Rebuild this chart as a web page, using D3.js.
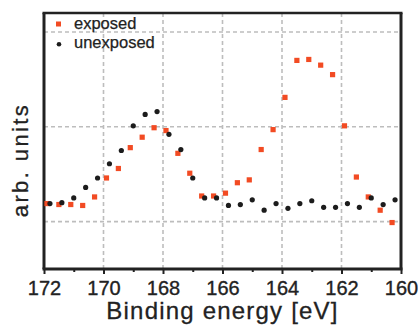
<!DOCTYPE html>
<html>
<head>
<meta charset="utf-8">
<script src="https://cdn.jsdelivr.net/npm/d3@7"></script>
<style>
  html, body { margin: 0; padding: 0; background: #fff; }
  svg { display: block; }
  text { font-family: Arial, "Liberation Sans", sans-serif; fill: #222; }
</style>
</head>
<body>
<svg id="chart" width="420" height="325"></svg>
<script>
// ---- data ----
const exposedEnergy = [171.9,171.5,171.1,170.7,170.3,169.9,169.5,169.1,168.7,168.3,167.9,167.5,167.1,166.7,166.3,165.9,165.5,165.1,164.7,164.3,163.9,163.5,163.1,162.7,162.3,161.9,161.5,161.1,160.7,160.3];
const exposedValues = [0.19,0.18,0.18,0.17,0.26,0.46,0.56,0.78,0.89,0.99,0.96,0.72,0.51,0.27,0.27,0.30,0.41,0.44,0.76,0.97,1.31,1.70,1.71,1.65,1.55,1.01,0.47,0.26,0.12,-0.01];
const unexposedEnergy = [171.8,171.4,171.0,170.6,170.2,169.8,169.4,169.0,168.6,168.2,167.8,167.4,167.0,166.6,166.2,165.8,165.4,165.0,164.6,164.2,163.8,163.4,163.0,162.6,162.2,161.8,161.4,161.0,160.6,160.2];
const unexposedValues = [0.19,0.20,0.25,0.36,0.46,0.61,0.75,1.01,1.13,1.16,0.92,0.76,0.46,0.25,0.25,0.17,0.18,0.23,0.12,0.19,0.14,0.19,0.22,0.15,0.15,0.19,0.15,0.25,0.18,0.23];
const xTicks = [172,170,168,166,164,162,160];
const xMinorTicks = [171,169,167,165,163,161];
const xGrid = [170,168,166,164,162];
const yGrid = [0,1,2];
const legendLabels = ["exposed","unexposed"];
const xTitle = "Binding energy [eV]";
const yTitle = "arb. units";

// ---- layout ----
const L = 44, R = 401, T = 13, B = 269;
const redColor = "#f24b23", blackColor = "#1c1c1c";
const svg = d3.select("#chart");
const x = d3.scaleLinear().domain([172,160]).range([L,R]);
const y = d3.scaleLinear().domain([-0.5,2.2]).range([B,T]);

// grid
const grid = svg.append("g").attr("stroke","#bdbdbd").attr("stroke-width",1.6).attr("stroke-dasharray","4,3");
grid.selectAll("line.v").data(xGrid).join("line").attr("class","v")
  .attr("x1",d=>x(d)).attr("x2",d=>x(d)).attr("y1",T).attr("y2",B);
grid.selectAll("line.h").data(yGrid).join("line").attr("class","h")
  .attr("x1",L).attr("x2",R).attr("y1",d=>y(d)).attr("y2",d=>y(d));

// frame
svg.append("line").attr("x1",L-1.5).attr("x2",R+1.5).attr("y1",T).attr("y2",T).attr("stroke","#222").attr("stroke-width",2.5);
svg.append("line").attr("x1",R).attr("x2",R).attr("y1",T).attr("y2",B).attr("stroke","#222").attr("stroke-width",3);
svg.append("line").attr("x1",L).attr("x2",L).attr("y1",T).attr("y2",B).attr("stroke","#222").attr("stroke-width",3);

// x axis
const xAxis = d3.axisBottom(x).tickValues(xTicks).tickSize(5).tickPadding(7).tickFormat(d3.format("d"));
const gx = svg.append("g").attr("transform",`translate(0,${B})`).call(xAxis);
gx.select(".domain").attr("stroke","#222").attr("stroke-width",2.8).attr("d",`M${L-1.5},0H${R+1.5}`);
gx.selectAll(".tick line").attr("stroke","#222").attr("stroke-width",2);
gx.selectAll(".tick text").attr("font-size",20).attr("fill","#222")
  .attr("stroke","#222").attr("stroke-width",0.35)
  .attr("font-family","Arial, 'Liberation Sans', sans-serif");
const xMinor = d3.axisBottom(x).tickValues(xMinorTicks).tickSize(3).tickFormat("");
const gxm = svg.append("g").attr("transform",`translate(0,${B})`).call(xMinor);
gxm.select(".domain").remove();
gxm.selectAll(".tick line").attr("stroke","#222").attr("stroke-width",2);

// titles
svg.append("text").attr("x",(L+R)/2).attr("y",319).attr("text-anchor","middle")
  .attr("font-size",24).attr("letter-spacing",1.2)
  .attr("stroke","#222").attr("stroke-width",0.3).text(xTitle);
svg.append("text").attr("transform","translate(28,160) rotate(-90)").attr("text-anchor","middle")
  .attr("font-size",22).attr("letter-spacing",2.4)
  .attr("stroke","#222").attr("stroke-width",0.3).text(yTitle);

// data
svg.append("g").selectAll("rect").data(exposedEnergy.map((e,i)=>[e,exposedValues[i]])).join("rect")
  .attr("x",d=>x(d[0])-2.6).attr("y",d=>y(d[1])-2.6).attr("width",5.2).attr("height",5.2).attr("fill",redColor);
svg.append("g").selectAll("circle").data(unexposedEnergy.map((e,i)=>[e,unexposedValues[i]])).join("circle")
  .attr("cx",d=>x(d[0])).attr("cy",d=>y(d[1])).attr("r",2.6).attr("fill",blackColor);

// legend
const lg = svg.append("g");
lg.append("rect").attr("x",56).attr("y",21.5).attr("width",5).attr("height",5).attr("fill",redColor);
lg.append("circle").attr("cx",59).attr("cy",44.3).attr("r",2.3).attr("fill",blackColor);
lg.append("text").attr("x",74).attr("y",28.5).attr("font-size",16.5).attr("stroke","#222").attr("stroke-width",0.25).text(legendLabels[0]);
lg.append("text").attr("x",74).attr("y",47.5).attr("font-size",16.5).attr("stroke","#222").attr("stroke-width",0.25).text(legendLabels[1]);
</script>
</body>
</html>
